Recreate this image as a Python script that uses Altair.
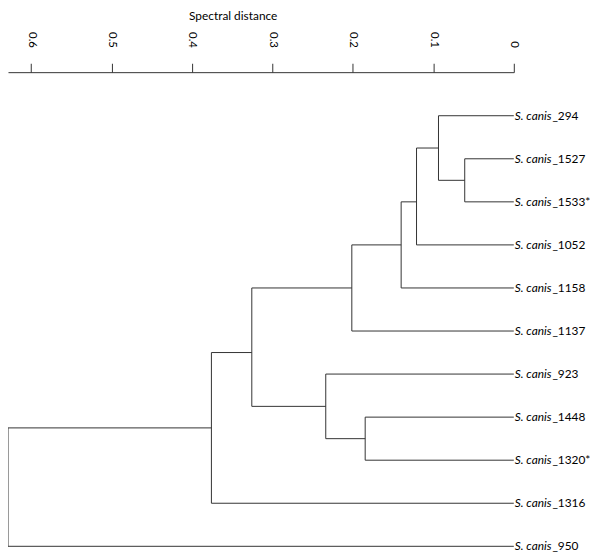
import altair as alt
import pandas as pd

# Leaves, top to bottom
leaf_ids = ["294", "1527", "1533*", "1052", "1158", "1137", "923", "1448", "1320*", "1316", "950"]
leaf_prefix = "S. canis"

# Internal nodes (merge of left & right child), spectral distance and vertical position (leaf-index units)
node_ids = ["A", "B", "C", "D", "E", "F", "G", "H", "I", "R"]
node_left = ["1527", "294", "B", "C", "D", "1448", "923", "E", "H", "I"]
node_right = ["1533*", "A", "1052", "1158", "1137", "1320*", "F", "G", "1316", "950"]
node_dist = [0.061, 0.0936, 0.1209, 0.140, 0.2013, 0.1847, 0.2337, 0.3256, 0.3758, 0.6286]
node_pos = [1.5, 0.75, 2.0, 3.0, 4.0, 7.5, 6.75, 5.5, 7.25, 8.625]

tick_values = [0, 0.1, 0.2, 0.3, 0.4, 0.5, 0.6]

dist = {l: 0.0 for l in leaf_ids}
pos = {l: i for i, l in enumerate(leaf_ids)}
for n, d, p in zip(node_ids, node_dist, node_pos):
    dist[n] = d
    pos[n] = p

segs = []
for n, l, r in zip(node_ids, node_left, node_right):
    segs.append({"x": dist[n], "x2": dist[n], "y": pos[l], "y2": pos[r]})
    for c in (l, r):
        segs.append({"x": dist[n], "x2": dist[c], "y": pos[c], "y2": pos[c]})
seg_df = pd.DataFrame(segs)

leaf_df = pd.DataFrame({
    "x": [0.0] * len(leaf_ids),
    "y": list(range(len(leaf_ids))),
    "prefix": [leaf_prefix] * len(leaf_ids),
    "suffix": ["_" + l for l in leaf_ids],
})

xscale = alt.Scale(domain=[0, 0.6286], reverse=True, nice=False, zero=False)
yscale = alt.Scale(domain=[-1.0115, 10.023], reverse=True, nice=False, zero=False)

xaxis = alt.Axis(
    orient="top", values=tick_values, grid=False,
    labelExpr="datum.value == 0 ? '0' : format(datum.value, '.1f')",
    labelAngle=90, labelAlign="right", labelBaseline="middle", labelPadding=16,
    tickSize=9, tickColor="#333333", domainColor="#333333",
    labelFont="Lato", labelFontSize=11.5, labelColor="#000000",
    title="Spectral distance", titleFont="Lato", titleFontSize=12, titleFontWeight="normal",
    titleColor="#000000", titleX=227, titleY=-62, titleBaseline="top", titleAlign="center",
)

rules = alt.Chart(seg_df).mark_rule(color="#333333", strokeWidth=1).encode(
    x=alt.X("x:Q", scale=xscale, axis=xaxis),
    x2="x2:Q",
    y=alt.Y("y:Q", scale=yscale, axis=None),
    y2="y2:Q",
)

txt1 = alt.Chart(leaf_df).mark_text(
    align="left", baseline="middle", dx=1, font="Lato", fontSize=12, fontStyle="italic", color="#000000"
).encode(
    x=alt.X("x:Q", scale=xscale),
    y=alt.Y("y:Q", scale=yscale),
    text="prefix:N",
)

txt2 = alt.Chart(leaf_df).mark_text(
    align="left", baseline="middle", dx=39, font="Lato", fontSize=12, color="#000000"
).encode(
    x=alt.X("x:Q", scale=xscale),
    y=alt.Y("y:Q", scale=yscale),
    text="suffix:N",
)

chart = alt.layer(rules, txt1, txt2).properties(
    width=511, height=480,
    autosize=alt.AutoSizeParams(type="none"),
    padding={"left": 0, "top": 62, "right": 79, "bottom": 10},
).configure_view(stroke=None)

chart.save("out.html", embed_options={"renderer": "svg", "actions": False})
